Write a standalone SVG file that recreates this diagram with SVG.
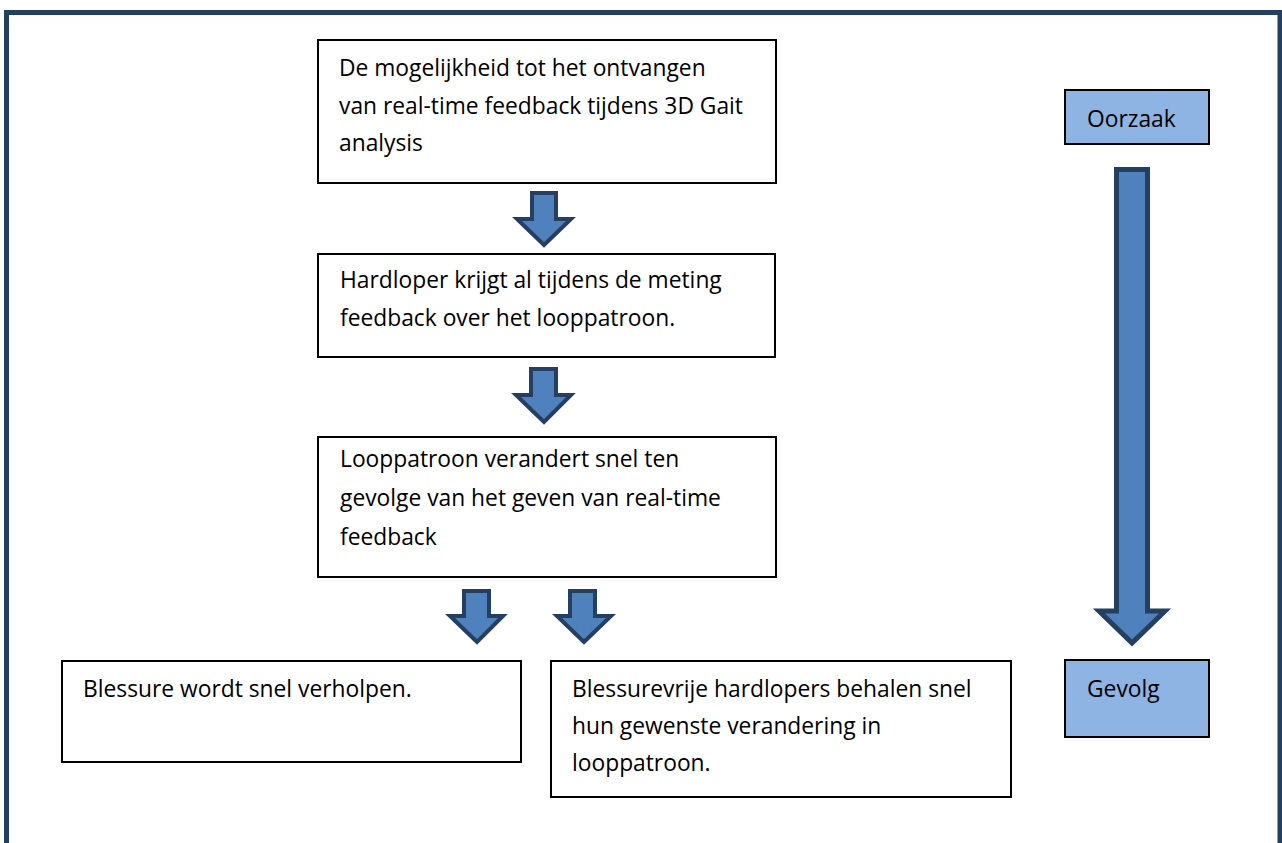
<svg xmlns="http://www.w3.org/2000/svg" width="1282" height="843" viewBox="0 0 1282 843">
<style>
.box{fill:#ffffff;stroke:#000000;stroke-width:2}
.lbl{fill:#8EB4E3;stroke:#000000;stroke-width:2}
.arr{fill:#4F81BD;stroke:#243F60;stroke-width:4;stroke-linejoin:miter}
.big{fill:#4F81BD;stroke:#243F60;stroke-width:5;stroke-linejoin:miter}
text{font-family:"Open Sans","Noto Sans","Liberation Sans",sans-serif;font-size:22.8px;fill:#000000}
</style>
<rect x="0" y="0" width="1282" height="843" fill="#ffffff"/>
<rect x="6.5" y="12.5" width="1273.5" height="900" fill="none" stroke="#243F60" stroke-width="5"/>
<g id="connectors">
<polygon class="arr" points="532,193 556,193 556,219 571,219 544,245 517,219 532,219"/>
<polygon class="arr" points="531,369 556,369 556,395 571,395 544,422 516,395 531,395"/>
<polygon class="arr" points="464,591 489,591 489,616 503,616 477,642 450,616 464,616"/>
<polygon class="arr" points="570,591 595,591 595,616 611,616 584,642 557,616 570,616"/>
<polygon class="big" points="1116.5,169.5 1147.5,169.5 1147.5,611 1165,611 1132,643 1099,611 1116.5,611"/>
</g>
<g id="n1">
<rect class="box" x="318" y="40" width="458" height="143"/>
<text x="339" y="76">De mogelijkheid tot het ontvangen</text>
<text x="339" y="114">van real-time feedback tijdens 3D Gait</text>
<text x="339" y="151">analysis</text>
</g>
<g id="n2">
<rect class="box" x="318" y="254" width="457" height="103"/>
<text x="340" y="288">Hardloper krijgt al tijdens de meting</text>
<text x="340" y="326">feedback over het looppatroon.</text>
</g>
<g id="n3">
<rect class="box" x="318" y="437" width="458" height="140"/>
<text x="340" y="467">Looppatroon verandert snel ten</text>
<text x="340" y="506">gevolge van het geven van real-time</text>
<text x="340" y="545">feedback</text>
</g>
<g id="n4">
<rect class="box" x="62" y="661" width="459" height="101"/>
<text x="83" y="697">Blessure wordt snel verholpen.</text>
</g>
<g id="n5">
<rect class="box" x="551" y="661" width="460" height="136"/>
<text x="572" y="697">Blessurevrije hardlopers behalen snel</text>
<text x="572" y="734">hun gewenste verandering in</text>
<text x="572" y="771">looppatroon.</text>
</g>
<g id="oorzaak">
<rect class="lbl" x="1065" y="90" width="144" height="54"/>
<text x="1087" y="127">Oorzaak</text>
</g>
<g id="gevolg">
<rect class="lbl" x="1065" y="660" width="144" height="77"/>
<text x="1087" y="697">Gevolg</text>
</g>
</svg>
